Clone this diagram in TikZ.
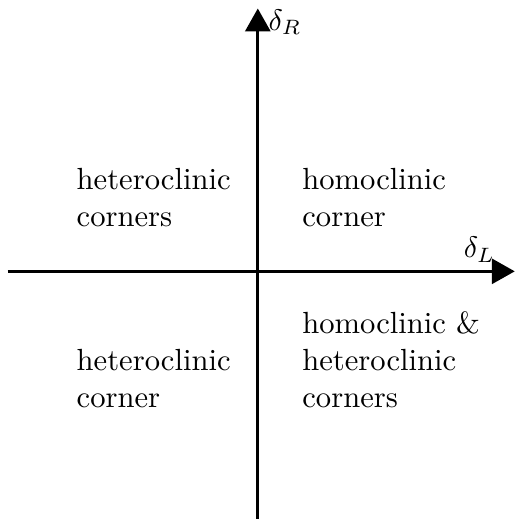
\documentclass[tikz,border=0pt]{standalone}
\usepackage{amsmath,amssymb}
\usetikzlibrary{arrows.meta, positioning}

\begin{document}
\begin{tikzpicture}[>={Triangle[length=7.7pt, width=8.4pt]}, line width=1pt]

% Frame of the picture
\useasboundingbox (-3.05,-2.93) rectangle (3.04,3.21);

% Axis ends
\coordinate (xmin) at (-2.96,0);
\coordinate (xmax) at (3.04,0);
\coordinate (ymin) at (0,-2.95);
\coordinate (ymax) at (0,3.11);

% Axes
\draw[->] (xmin) -- (xmax);
\draw[->] (ymin) -- (ymax);

% Axis labels
\node[anchor=base west, inner sep=0pt, font=\fontsize{10.3pt}{12.4pt}\selectfont] (dL) at (2.42,0.16) {$\delta_L$};
\node[anchor=base west, inner sep=0pt, font=\fontsize{10.3pt}{12.4pt}\selectfont] (dR) at (0.11,2.85) {$\delta_R$};

% Quadrant labels (base = last line)
\tikzset{region/.style={align=left, anchor=base west, inner sep=0pt,
  font=\fontsize{10.3pt}{12.4pt}\selectfont}}
\node[region] (ql) at (-2.16,0.53) {heteroclinic\\corners};
\node[region] (qr) at (0.51,0.53) {homoclinic\\corner};
\node[region] (bl) at (-2.16,-1.61) {heteroclinic\\corner};
\node[region] (br) at (0.51,-1.61) {homoclinic \&\\heteroclinic\\corners};

\end{tikzpicture}
\end{document}
